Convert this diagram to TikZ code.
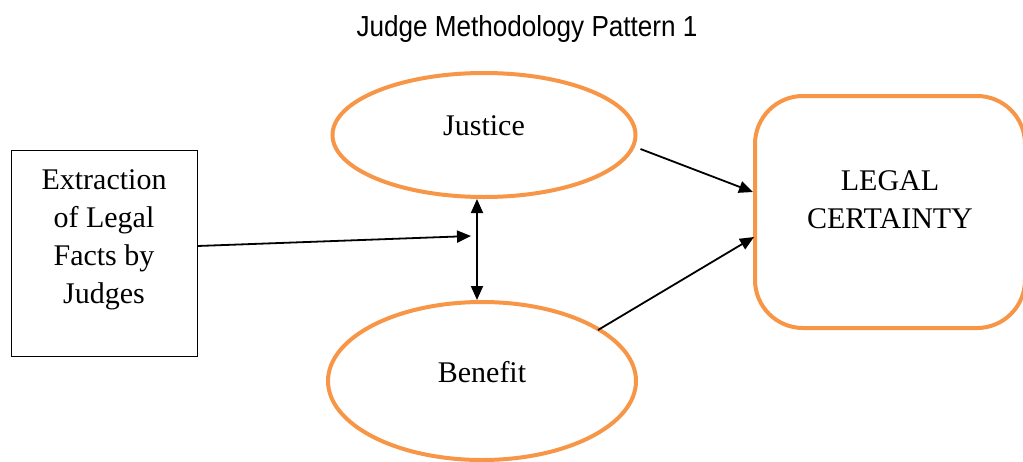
\documentclass[tikz,border=0pt]{standalone}
\usepackage{fontspec}
\setmainfont{Liberation Serif}
\newfontfamily\titlefont{Liberation Sans}
\usetikzlibrary{shapes.geometric,arrows.meta}
\definecolor{accent}{HTML}{F79646}
\tikzset{
  oval/.style={ellipse, draw=accent, line width=4pt, inner sep=0pt},
  txt/.style={font=\fontsize{30}{38}\selectfont, align=center, inner sep=0pt},
  conn/.style={line width=1.8pt, -{Triangle[length=14pt,width=12pt]}},
}
\begin{document}
\begin{tikzpicture}[x=1pt,y=-1pt]
\useasboundingbox (0,0) rectangle (1023,461);
\node[anchor=base, inner sep=0pt, font=\titlefont\fontsize{29}{34}\selectfont, xscale=0.9] (title) at (527,36) {Judge Methodology Pattern 1};
\node[draw, line width=1pt, minimum width=186pt, minimum height=206pt, inner sep=0pt,
  label={[txt, yshift=13pt]center:Extraction\\of Legal\\Facts by\\Judges}] (facts) at (104,253) {};
\node[oval, minimum width=303pt, minimum height=124pt,
  label={[txt, yshift=9pt]center:Justice}] (justice) at (484,135) {};
\node[oval, minimum width=308pt, minimum height=158pt,
  label={[txt, yshift=9pt]center:Benefit}] (benefit) at (482,381) {};
\node[draw=accent, line width=4pt, rounded corners=48pt, minimum width=270pt, minimum height=232pt, inner sep=0pt,
  label={[txt, yshift=12pt]center:LEGAL\\CERTAINTY}] (legal) at (890,212) {};
\coordinate (meet) at (471,236);
\draw[conn] ([yshift=7pt]facts.east) -- (meet);
\draw[line width=1.8pt, {Triangle[length=14pt,width=12pt]}-{Triangle[length=14pt,width=12pt]}] ([xshift=-7pt]justice.south) -- ([xshift=-5pt]benefit.north);
\draw[conn] ([shift={(3,14)}]justice.east) -- ([shift={(0,-20)}]legal.west);
\draw[conn] ([shift={(116,-51)}]benefit.center) -- ([shift={(1,25)}]legal.west);
\end{tikzpicture}
\end{document}
